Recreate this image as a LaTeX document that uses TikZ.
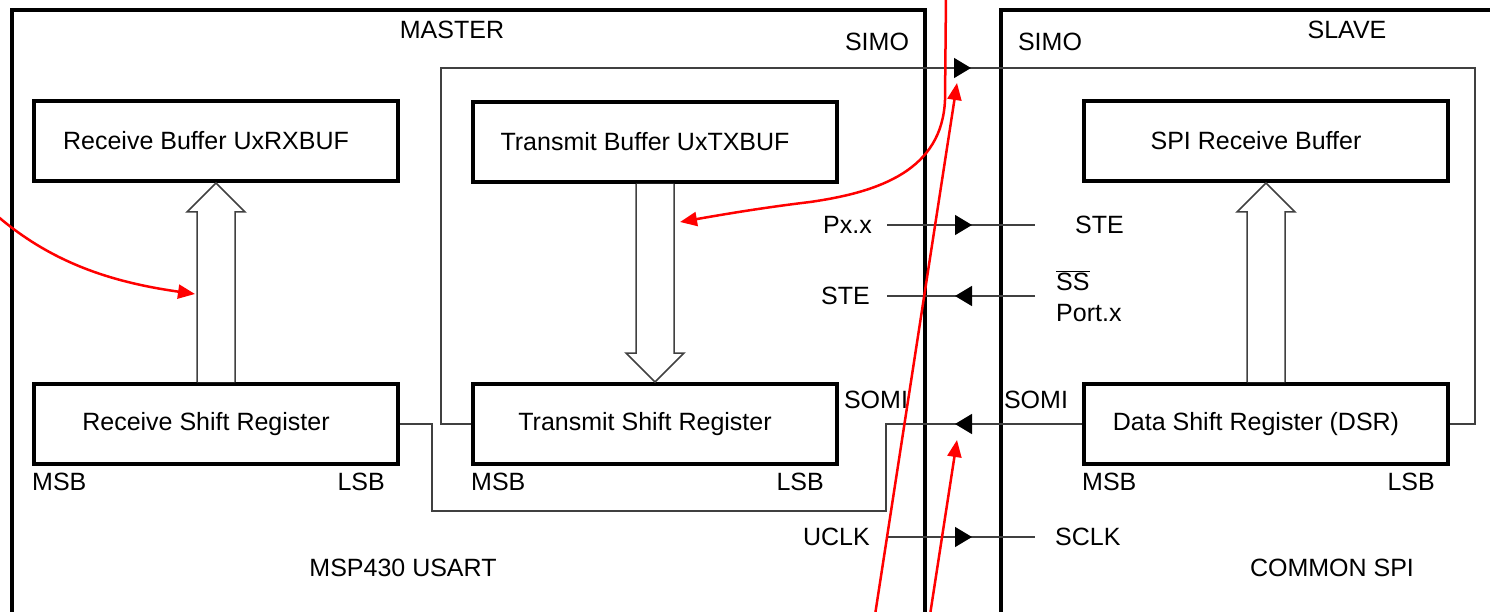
\documentclass[tikz,border=0pt]{standalone}
\usepackage{fontspec}
\setmainfont{Liberation Sans}
\usepackage{tikz}
\usetikzlibrary{arrows.meta, positioning, calc, decorations.markings}

% hollow block arrow from #1 (tail) to #2 (tip), #3 = signed head length
\newcommand{\bigarrow}[3]{%
  \draw[hollow] let \p1=(#1), \p2=(#2) in
    (\x1-19pt,\y1) -- (\x1-19pt,{\y2+(#3)}) -- (\x1-29pt,{\y2+(#3)}) -- (\x2,\y2)
    -- (\x1+29pt,{\y2+(#3)}) -- (\x1+19pt,{\y2+(#3)}) -- (\x1+19pt,\y1);}

\begin{document}
\begin{tikzpicture}[x=1pt, y=-1pt,
    every node/.style={font=\fontsize{25}{31}\selectfont},
    regbox/.style={draw, line width=4pt, minimum width=364pt, minimum height=80pt, inner sep=0pt,
        execute at begin node={\hspace*{-20pt}}},
    lbl/.style={inner sep=0pt},
    frame/.style={line width=3.5pt},
    sig/.style={draw=wire, line width=1.5pt},
    midarrow/.style={postaction={decorate}, decoration={markings,
        mark=at position #1 with {\arrow{Triangle[length=17pt,width=20pt,color=black]}}}},
    hollow/.style={draw=wire, line width=1.5pt, fill=white},
    note/.style={draw=red, line width=2.5pt, -{Triangle[length=17pt,width=14pt]}}]
  \colorlet{wire}{black!75}
  \clip (0,0) rectangle (1490,612);

  % master and slave frames
  \draw[frame] (12,640) -- (12,10) -- (925,10) -- (925,640);
  \draw[frame] (1001,640) -- (1001,10) -- (1500,10);
  \node[lbl] (master) at (452,30) {MASTER};
  \node[lbl] (slave) at (1347,30) {SLAVE};
  \node[lbl] (usart) at (403,568) {MSP430 USART};
  \node[lbl] (common) at (1332,568) {COMMON SPI};

  % registers and buffers
  \node[regbox] (rxbuf) at (216,141) {Receive Buffer UxRXBUF};
  \node[regbox] (txbuf) at (655,142) {Transmit Buffer UxTXBUF};
  \node[regbox] (spibuf) at (1266,141) {SPI Receive Buffer};
  \node[regbox] (rsr) at (216,424) {Receive Shift Register};
  \node[regbox] (tsr) at (655,424) {Transmit Shift Register};
  \node[regbox] (dsr) at (1266,424) {Data Shift Register (DSR)};

  \foreach \r in {rsr, tsr, dsr} {
    \node[lbl, below right=7pt and 0pt of \r.south west] {MSB};
    \node[lbl, below left=7pt and 15pt of \r.south east] {LSB};
  }

  \bigarrow{rsr.north}{rxbuf.south}{-29pt}
  \bigarrow{txbuf.south}{tsr.north}{29pt}
  \bigarrow{dsr.north}{spibuf.south}{-29pt}

  % SIMO and SOMI
  \draw[sig, midarrow=916pt] (tsr.west) -- ++(-30,0) |- (1475,68) |- (dsr.east);
  \draw[sig, midarrow=127pt] (dsr.west) -- ++(-196,0) |- (432,511) |- (rsr.east);
  \node[lbl] (simom) at (877,42) {SIMO};
  \node[lbl] (simos) at (1050,42) {SIMO};
  \node[lbl] (somim) at (876,400) {SOMI};
  \node[lbl] (somis) at (1036,400) {SOMI};

  % STE, SS and clock
  \coordinate (pxxR) at (887,225);  \coordinate (steL) at (1035,225);
  \coordinate (steM) at (887,296);  \coordinate (ssS) at (1035,296);
  \coordinate (uclkR) at (887,537); \coordinate (sclkL) at (1035,537);
  \draw[sig, midarrow=85pt] (pxxR) -- (steL);
  \draw[sig, midarrow=80pt] (ssS) -- (steM);
  \draw[sig, midarrow=85pt] (uclkR) -- (sclkL);
  \node[lbl, left=15pt of pxxR] (pxx) {Px.x};
  \node[lbl, right=40pt of steL] (stes) {STE};
  \node[lbl, left=17pt of steM] (stem) {STE};
  \node[lbl, right=21pt of ssS, align=left] (ss) {$\overline{\mbox{SS}}$\\Port.x};
  \node[lbl, left=17pt of uclkR] (uclk) {UCLK};
  \node[lbl, right=20pt of sclkL] (sclk) {SCLK};

  % red marks
  \draw[note] (-5,214) .. controls (50,262) and (110,282) .. (195,294);
  \draw[note] (946,-5) -- (945,100) .. controls (942,170) and (880,192) .. (810,202)
    .. controls (760,208) and (720,215) .. (680,222);
  \draw[note] (875,615) -- (957,83);
  \draw[note] (930,615) -- (957,440);
\end{tikzpicture}
\end{document}
